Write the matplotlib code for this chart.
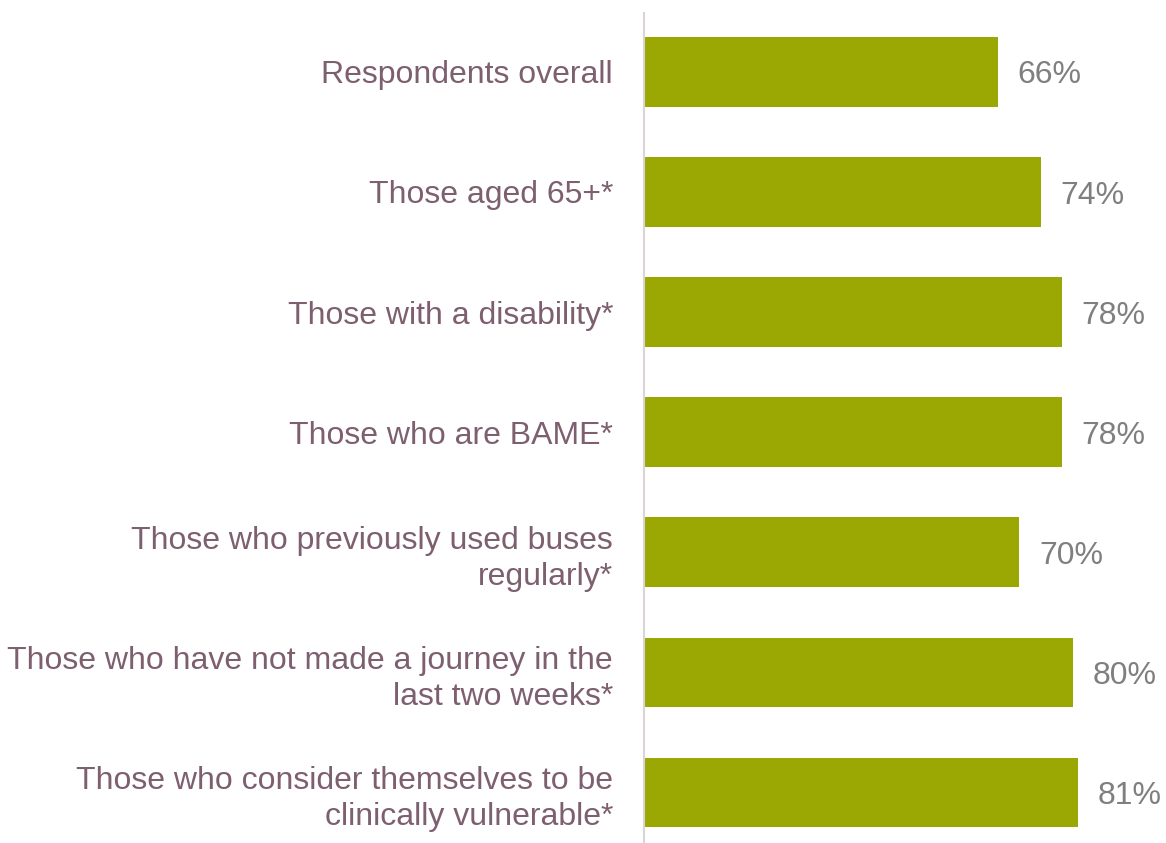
import numpy as np
import matplotlib
matplotlib.use("Agg")
import matplotlib.pyplot as plt

plt.rcParams['font.family'] = ['Liberation Sans', 'DejaVu Sans']

categories = [
    "Respondents overall",
    "Those aged 65+*",
    "Those with a disability*",
    "Those who are BAME*",
    "Those who previously used buses\nregularly*",
    "Those who have not made a journey in the\nlast two weeks*",
    "Those who consider themselves to be\nclinically vulnerable*",
]
values = [66, 74, 78, 78, 70, 80, 81]

bar_color = '#9BA804'
label_color = '#7D5F6F'
value_color = '#7F7F7F'

fig = plt.figure(figsize=(11.66, 8.43), dpi=100)
ax = fig.add_axes([0.552, 0.0, 0.448, 1 - 13 / 843])

y = np.arange(len(categories))
ax.barh(y, values, height=0.58, color=bar_color)
ax.set_ylim(6.42, -0.49)
ax.set_xlim(0, 97.4)

for yi, v in zip(y, values):
    ax.text(v + 3.7, yi + 0.03, f"{v}%", va='center', ha='left', fontsize=23, color=value_color)

ax.set_yticks(y)
ax.set_yticklabels(categories, fontsize=23, color=label_color, linespacing=1.25)
ax.tick_params(axis='y', length=0, pad=22)
ax.set_xticks([])
for s in ['top', 'right', 'bottom']:
    ax.spines[s].set_visible(False)
ax.spines['left'].set_color('#DCD3D8')
ax.spines['left'].set_linewidth(1.5)

fig.savefig('out.png', dpi=100)
